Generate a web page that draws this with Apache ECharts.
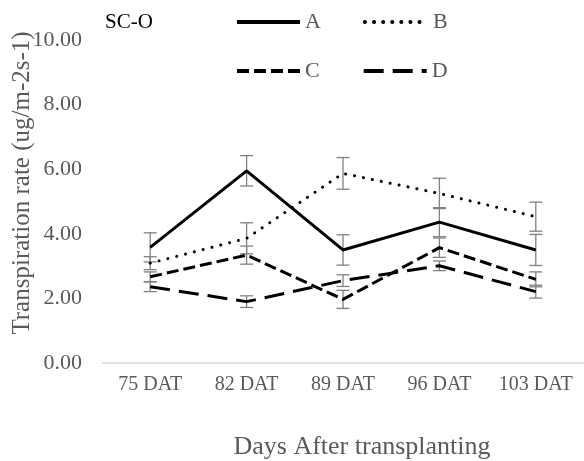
<!DOCTYPE html>
<html><head><meta charset="utf-8">
<script src="https://cdn.jsdelivr.net/npm/echarts@6/dist/echarts.min.js"></script>
<style>html,body{margin:0;padding:0;background:#fff}#c{width:584px;height:461px}</style>
</head><body><div id="c"></div>
<script>
const categories = ['75 DAT','82 DAT','89 DAT','96 DAT','103 DAT'];
const yTicks = [0,2,4,6,8,10];
const seriesA = [3.58, 5.95, 3.50, 4.36, 3.50];
const seriesB = [3.09, 3.86, 5.87, 5.25, 4.53];
const seriesC = [2.67, 3.34, 1.97, 3.57, 2.59];
const seriesD = [2.36, 1.90, 2.55, 3.01, 2.21];
const errA = [0.45, 0.47, 0.47, 0.45, 0.48];
const errB = [0.20, 0.48, 0.49, 0.47, 0.45];
const errC = [0.15, 0.28, 0.28, 0.30, 0.23];
const errD = [0.15, 0.18, 0.18, 0.15, 0.20];

const font = 'Liberation Serif';
const gray = '#595959';

function errData(vals, errs){ return vals.map((v,i)=>[i, v-errs[i], v+errs[i]]); }
function errSeries(vals, errs){
  return {
    type:'custom', silent:true, z:1,
    renderItem:function(params, api){
      const x = api.value(0);
      const lo = api.coord([x, api.value(1)]);
      const hi = api.coord([x, api.value(2)]);
      const w = 6.5;
      const st = {stroke:'#808080', lineWidth:1.3};
      return {type:'group', children:[
        {type:'line', shape:{x1:lo[0],y1:lo[1],x2:hi[0],y2:hi[1]}, style:st},
        {type:'line', shape:{x1:lo[0]-w,y1:lo[1],x2:lo[0]+w,y2:lo[1]}, style:st},
        {type:'line', shape:{x1:hi[0]-w,y1:hi[1],x2:hi[0]+w,y2:hi[1]}, style:st}
      ]};
    },
    data: errData(vals, errs)
  };
}
function lineSeries(name, vals, type, cap){
  return {name:name, type:'line', data:vals, symbol:'none', showSymbol:false, z:3,
    itemStyle:{color:'#000'},
    lineStyle:{color:'#000', width:3, type:type, cap:cap||'butt'}};
}

const legendText = {fontFamily:font, fontSize:22, color:gray};
const legendLine = {width:4, inactiveWidth:4};
const chart = echarts.init(document.getElementById('c'));
chart.setOption({
  animation:false,
  title:{text:'SC-O', left:100, top:7, textStyle:{fontFamily:font, fontSize:21, fontWeight:'normal', color:'#000'}},
  legend:[
    {data:['A','B'], left:230, top:6, itemWidth:63, itemHeight:14, itemGap:42, itemStyle:{opacity:0},
     lineStyle:legendLine, textStyle:legendText},
    {data:['C','D'], left:230, top:55, itemWidth:63, itemHeight:14, itemGap:42, itemStyle:{opacity:0},
     lineStyle:legendLine, textStyle:legendText}
  ],
  grid:{left:102, right:-7, top:40, bottom:98, containLabel:false},
  xAxis:{type:'category', data:categories, boundaryGap:true,
    axisLine:{show:true, lineStyle:{color:'#d9d9d9', width:1.5}},
    axisTick:{show:false},
    axisLabel:{fontFamily:font, fontSize:20, color:gray, margin:12, interval:0, hideOverlap:false}
  },
  yAxis:{type:'value', min:yTicks[0], max:yTicks[yTicks.length-1], interval:2,
    axisLine:{show:false}, axisTick:{show:false}, splitLine:{show:false},
    axisLabel:{fontFamily:font, fontSize:22, color:gray, margin:20, formatter:v=>v.toFixed(2)}
  },
  graphic:[
    {type:'text', x:362, y:447, style:{text:'Days After transplanting', align:'center', verticalAlign:'middle', font:'26px "Liberation Serif"', fill:gray}},
    {type:'text', x:22, y:183, rotation:Math.PI/2, style:{text:'Transpiration rate (ug/m-2s-1)', align:'center', verticalAlign:'middle', font:'25px "Liberation Serif"', fill:gray}}
  ],
  series:[
    errSeries(seriesA, errA), errSeries(seriesB, errB), errSeries(seriesC, errC), errSeries(seriesD, errD),
    lineSeries('A', seriesA, 'solid'),
    lineSeries('B', seriesB, [0.1, 9], 'round'),
    lineSeries('C', seriesC, [12, 5]),
    lineSeries('D', seriesD, [20, 9])
  ]
});
</script></body></html>
